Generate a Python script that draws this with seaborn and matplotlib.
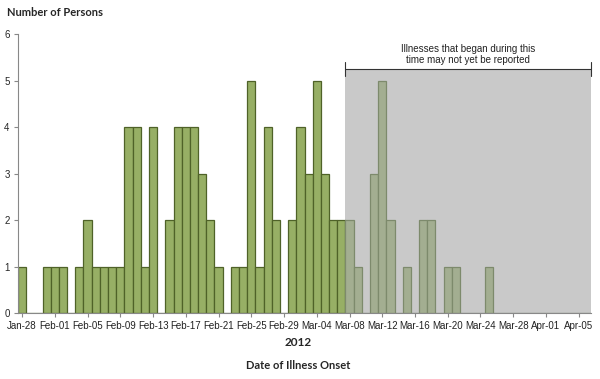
import pandas as pd
import numpy as np
import matplotlib
matplotlib.use("Agg")
import matplotlib.pyplot as plt
import seaborn as sns

# cases per day of illness onset, Jan-28 through Apr-06 2012
counts = [1, 0, 0, 1,
          1, 1, 0, 1, 2, 1, 1, 1, 1, 4, 4, 1, 4, 0, 2, 4, 4, 4, 3, 2, 1, 0, 1, 1, 5, 1, 4, 2, 0,
          2, 4, 3, 5, 3, 2, 2, 2, 1, 0, 3, 5, 2, 0, 1, 0, 2, 2, 0, 1, 1, 0, 0, 0, 1,
          0, 0, 0, 0, 0, 0, 0, 0, 0, 0, 0, 0]
dates = pd.date_range("2012-01-28", "2012-04-06", freq="D")
cutoff = pd.Timestamp("2012-03-08")  # reporting delay starts here
tick_every = 4

df = pd.DataFrame({"date": dates.strftime("%b-%d"), "count": counts})
late = dates >= cutoff
colors = ["#a4b38c" if l else "#9bbb59" for l in late]
edges = ["#7d8a6c" if l else "#4f6228" for l in late]

sns.set_style("white")
plt.rcParams["font.family"] = ["Liberation Sans", "DejaVu Sans"]

fig = plt.figure(figsize=(6, 3.79), dpi=100)
ax = fig.add_axes([0.03, 0.174, 0.955, 0.736])

# shaded "may not yet be reported" region
start = int(np.argmax(late))
ax.fill_between([start - 0.5, len(dates) - 0.5], 0, 5.25, color="#c9c9c9", zorder=0, linewidth=0)

sns.barplot(data=df, x="date", y="count", hue="date", palette=colors, legend=False,
            width=1.0, linewidth=0.9, ax=ax, zorder=2)
for bar, ec in zip(ax.patches, edges):
    bar.set_edgecolor(ec)

ax.set_xlim(-0.5, len(dates) - 0.5)
ax.set_ylim(0, 6)
ax.set_yticks(range(0, 7))
ax.set_xticks(range(0, len(dates), tick_every))
ax.set_xticklabels(df["date"][::tick_every], fontsize=7, color="#222222")
ax.tick_params(axis="y", labelsize=7, length=3, color="#888888", direction="out", pad=3, left=True)
ax.tick_params(axis="x", length=3, color="#888888", direction="out", pad=3, bottom=True)
ax.set_xlabel("")
ax.set_ylabel("")
sns.despine(ax=ax)
for s in ["left", "bottom"]:
    ax.spines[s].set_color("#888888")
    ax.spines[s].set_linewidth(0.8)

# bracket annotation
right = len(dates) - 0.5
ax.plot([start - 0.5, right], [5.25, 5.25], color="#333333", lw=0.8, clip_on=False, zorder=3)
for xe in [start - 0.5, right]:
    ax.plot([xe, xe], [5.1, 5.4], color="#333333", lw=0.8, clip_on=False, zorder=3)
ax.text((start - 0.5 + right) / 2, 5.33, "Illnesses that began during this\ntime may not yet be reported",
        ha="center", va="bottom", fontsize=7, color="#222222", linespacing=1.15)

fig.text(0.012, 0.968, "Number of Persons", fontsize=8, fontweight="bold", family="Lato", va="center")
fig.text(0.497, 0.096, "2012", fontsize=8.5, fontweight="bold", family="Lato", ha="center", va="center")
fig.text(0.497, 0.035, "Date of Illness Onset", fontsize=8, fontweight="bold", family="Lato",
         ha="center", va="center")

fig.savefig("out.png", dpi=100)
